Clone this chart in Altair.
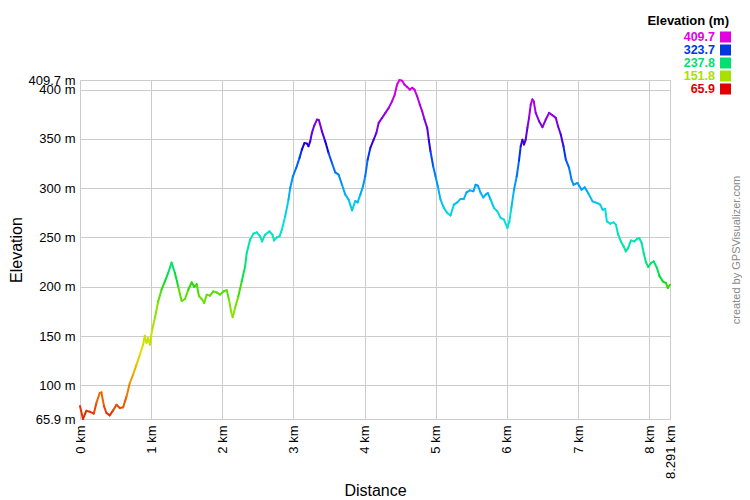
import altair as alt
import pandas as pd

distance_km = [
    0.000, 0.042, 0.090, 0.137, 0.193, 0.231, 0.277, 0.301, 0.338, 0.372,
    0.418, 0.465, 0.513, 0.559, 0.606, 0.654, 0.700, 0.746, 0.794, 0.841,
    0.887, 0.911, 0.935, 0.958, 0.982, 1.014, 1.052, 1.099, 1.146, 1.193,
    1.239, 1.287, 1.334, 1.380, 1.428, 1.475, 1.521, 1.569, 1.606, 1.639,
    1.672, 1.710, 1.746, 1.780, 1.827, 1.873, 1.921, 1.968, 2.014, 2.062,
    2.094, 2.123, 2.146, 2.179, 2.225, 2.273, 2.320, 2.343, 2.390, 2.437,
    2.485, 2.531, 2.559, 2.601, 2.662, 2.704, 2.728, 2.766, 2.803, 2.837,
    2.883, 2.930, 2.954, 2.992, 3.038, 3.085, 3.118, 3.155, 3.189, 3.211,
    3.235, 3.259, 3.292, 3.330, 3.358, 3.400, 3.446, 3.493, 3.541, 3.587,
    3.634, 3.682, 3.728, 3.775, 3.823, 3.869, 3.901, 3.939, 3.977, 4.008,
    4.042, 4.080, 4.127, 4.165, 4.197, 4.245, 4.292, 4.338, 4.386, 4.423,
    4.456, 4.489, 4.527, 4.559, 4.597, 4.634, 4.668, 4.700, 4.738, 4.775,
    4.808, 4.841, 4.879, 4.901, 4.925, 4.963, 4.996, 5.028, 5.066, 5.113,
    5.161, 5.207, 5.254, 5.301, 5.348, 5.394, 5.432, 5.479, 5.527, 5.559,
    5.592, 5.630, 5.668, 5.700, 5.732, 5.770, 5.817, 5.865, 5.911, 5.958,
    6.006, 6.034, 6.062, 6.099, 6.137, 6.169, 6.193, 6.217, 6.239, 6.263,
    6.287, 6.310, 6.334, 6.358, 6.376, 6.404, 6.451, 6.499, 6.545, 6.592,
    6.639, 6.686, 6.718, 6.756, 6.794, 6.827, 6.873, 6.907, 6.935, 6.992,
    7.048, 7.094, 7.141, 7.203, 7.263, 7.310, 7.344, 7.380, 7.404, 7.451,
    7.499, 7.531, 7.563, 7.601, 7.639, 7.670, 7.704, 7.742, 7.789, 7.827,
    7.859, 7.893, 7.921, 7.954, 7.986, 8.024, 8.062, 8.108, 8.141, 8.189,
    8.235, 8.259, 8.291,
]
elevation_m = [
    79.0, 65.9, 74.3, 73.3, 71.3, 82.2, 92.3, 92.9, 78.7, 72.0,
    69.6, 74.6, 80.4, 77.0, 77.7, 88.8, 102.4, 110.9, 121.0, 131.1,
    141.3, 150.4, 143.0, 148.0, 141.3, 156.5, 168.4, 185.2, 197.0, 205.5,
    214.0, 224.5, 214.0, 200.4, 185.5, 187.6, 197.0, 204.5, 199.8, 202.8,
    190.3, 187.6, 183.6, 192.0, 191.0, 195.3, 194.3, 192.0, 195.3, 196.4,
    186.9, 175.0, 169.0, 178.5, 190.3, 205.5, 220.7, 234.3, 247.8, 253.9,
    255.2, 251.1, 246.0, 252.8, 256.2, 252.8, 247.0, 250.1, 251.1, 257.9,
    271.4, 288.4, 300.2, 312.0, 320.5, 330.7, 339.1, 345.9, 345.2, 342.5,
    347.5, 356.1, 363.5, 369.6, 368.9, 357.6, 347.5, 335.7, 325.5, 316.0,
    313.7, 303.5, 293.4, 288.4, 277.5, 287.0, 285.6, 293.4, 301.8, 312.0,
    328.9, 340.8, 349.2, 356.1, 366.2, 371.3, 376.4, 381.4, 388.2, 394.9,
    405.1, 409.7, 409.0, 405.1, 402.7, 400.0, 401.7, 400.0, 393.2, 384.8,
    378.0, 369.6, 361.2, 349.2, 337.4, 322.2, 312.0, 302.0, 288.4, 280.0,
    274.9, 272.3, 283.3, 285.6, 289.1, 289.1, 295.8, 297.8, 296.8, 303.5,
    302.5, 295.1, 290.6, 293.4, 295.1, 288.4, 280.0, 276.5, 269.8, 268.0,
    259.6, 266.3, 280.0, 298.5, 312.0, 328.0, 342.5, 349.2, 344.2, 349.2,
    361.2, 371.3, 384.8, 390.0, 388.0, 376.4, 367.9, 361.9, 369.6, 376.4,
    374.0, 371.3, 362.8, 354.4, 342.5, 329.0, 320.5, 308.7, 303.5, 305.3,
    298.5, 300.8, 295.1, 286.6, 285.0, 283.3, 278.2, 278.9, 266.3, 264.0,
    265.3, 263.0, 252.8, 246.0, 241.0, 235.9, 239.4, 247.0, 246.0, 248.5,
    249.5, 244.4, 234.3, 224.7, 220.1, 224.1, 225.8, 219.0, 211.3, 205.5,
    203.8, 198.8, 202.1,
]

x_ticks = [0, 1, 2, 3, 4, 5, 6, 7, 8, 8.291]
y_ticks = [65.9, 100, 150, 200, 250, 300, 350, 400, 409.7]

legend_values = [409.7, 323.7, 237.8, 151.8, 65.9]
legend_colors = ["#e000e0", "#0038e0", "#00e070", "#a8e000", "#e00000"]

# spectrum: red (low) -> yellow -> green -> cyan -> blue -> magenta (high)
color_domain = [65.9, 134.66, 203.42, 272.18, 340.94, 409.7]
color_range = ["#e00000", "#e0e000", "#00e000", "#00e0e0", "#0000e0", "#e000e0"]

segs = pd.DataFrame({
    "km": distance_km[:-1],
    "km2": distance_km[1:],
    "elev": elevation_m[:-1],
    "elev2": elevation_m[1:],
})
segs["mid"] = (segs["elev"] + segs["elev2"]) / 2

W, H = 590, 339
FONT = "Liberation Sans"

x_scale = alt.Scale(domain=[0, 8.291], nice=False, zero=False)
y_scale = alt.Scale(domain=[65.9, 409.7], nice=False, zero=False)

line = alt.Chart(segs).mark_rule(strokeWidth=2, strokeCap="round").encode(
    x=alt.X("km:Q", scale=x_scale, axis=alt.Axis(
        values=x_ticks, labelExpr="datum.value + ' km'", labelAngle=-90,
        labelFontSize=13, labelFont=FONT, labelColor="#000", labelPadding=6,
        labelOverlap=False, labelBound=False, labelFlush=False,
        ticks=False, domain=False, grid=True, gridColor="#cccccc",
        title="Distance", titleFont=FONT, titleFontSize=16, titleFontWeight="normal",
        titleColor="#000", titleY=71, titleBaseline="middle")),
    x2="km2:Q",
    y=alt.Y("elev:Q", scale=y_scale, axis=alt.Axis(
        values=y_ticks, labelExpr="datum.value + ' m'",
        labelFontSize=13, labelFont=FONT, labelColor="#000", labelPadding=5,
        labelOverlap=False, labelBound=False, labelFlush=False,
        ticks=False, domain=False, grid=True, gridColor="#cccccc",
        title="Elevation", titleFont=FONT, titleFontSize=16, titleFontWeight="normal",
        titleColor="#000", titleX=-64, titleY=H / 2, titleAngle=-90,
        titleBaseline="middle", titleAlign="center")),
    y2="elev2:Q",
    color=alt.Color("mid:Q", scale=alt.Scale(domain=color_domain, range=color_range),
                    legend=None),
)

leg = pd.DataFrame({"val": [f"{v}" for v in legend_values], "col": legend_colors,
                    "row": list(range(len(legend_values)))})
row_scale = alt.Scale(domain=[0, 4], range=[-43, 9])

leg_text = alt.Chart(leg).mark_text(
    align="right", baseline="middle", font=FONT, fontSize=12.5, fontWeight="bold"
).encode(
    x=alt.value(635),
    y=alt.Y("row:Q", scale=row_scale, axis=None),
    text="val:N",
    color=alt.Color("col:N", scale=None),
)
leg_sq = alt.Chart(leg).mark_square(size=121, opacity=1, filled=True).encode(
    x=alt.value(645.5),
    y=alt.Y("row:Q", scale=row_scale, axis=None),
    color=alt.Color("col:N", scale=None),
)
leg_title = alt.Chart(pd.DataFrame({"t": ["Elevation (m)"]})).mark_text(
    align="right", baseline="middle", font=FONT, fontSize=13, fontWeight="bold", color="#000"
).encode(x=alt.value(649), y=alt.value(-59), text="t:N")

credit = alt.Chart(pd.DataFrame({"t": ["created by GPSVisualizer.com"]})).mark_text(
    angle=270, align="center", baseline="middle", font=FONT, fontSize=11, color="#888888"
).encode(x=alt.value(657), y=alt.value(170), text="t:N")

chart = alt.layer(line, leg_title, leg_text, leg_sq, credit).resolve_scale(
    y="independent", color="independent"
).properties(
    width=W, height=H,
    autosize=alt.AutoSizeParams(type="none"),
    padding={"left": 72, "top": 72, "right": 72, "bottom": 78},
).configure_view(stroke=None).configure(background="white")

chart.save("out.html", embed_options={"renderer": "svg", "actions": False})
